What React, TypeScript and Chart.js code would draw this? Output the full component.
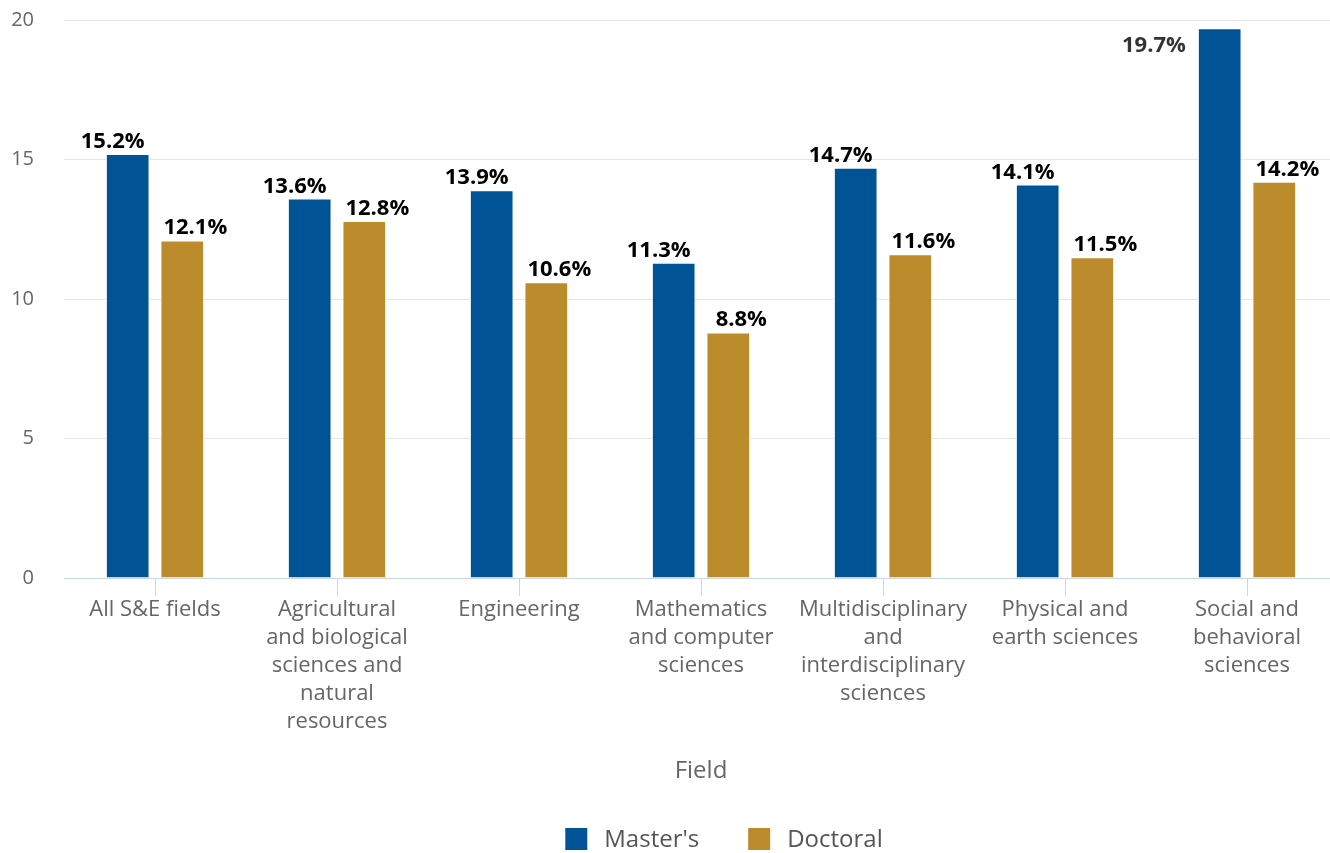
import React, { useEffect, useRef } from "react";
import { Chart, registerables } from "chart.js";

Chart.register(...registerables);

// ---- data ----
const categories: string[][] = [
  ["All S&E fields"],
  ["Agricultural", "and biological", "sciences and", "natural", "resources"],
  ["Engineering"],
  ["Mathematics", "and computer", "sciences"],
  ["Multidisciplinary", "and", "interdisciplinary", "sciences"],
  ["Physical and", "earth sciences"],
  ["Social and", "behavioral", "sciences"],
];
const mastersValues = [15.2, 13.6, 13.9, 11.3, 14.7, 14.1, 19.7];
const doctoralValues = [12.1, 12.8, 10.6, 8.8, 11.6, 11.5, 14.2];
const seriesNames = ["Master's", "Doctoral"];
const seriesColors = ["#005496", "#bb8b2c"];
const yMin = 0;
const yMax = 20;
const yStep = 5;
const xTitle = "Field";

const FONT = "'Open Sans', 'Noto Sans', sans-serif";

const dataLabelPlugin = {
  id: "dataLabelsCustom",
  afterDatasetsDraw(chart: any) {
    const ctx = chart.ctx;
    const area = chart.chartArea;
    const shift = [-15, 13];
    ctx.save();
    ctx.font = `bold 22px ${FONT}`;
    chart.data.datasets.forEach((ds: any, di: number) => {
      const meta = chart.getDatasetMeta(di);
      meta.data.forEach((bar: any, i: number) => {
        const v = ds.data[i] as number;
        const text = v.toFixed(1) + "%";
        const p = bar.getProps(["x", "y", "width"], true);
        ctx.textBaseline = "alphabetic";
        if (p.y - 30 < area.top) {
          ctx.fillStyle = "#333333";
          ctx.textAlign = "right";
          ctx.fillText(text, p.x - p.width / 2 - 12, p.y + 24);
        } else {
          ctx.fillStyle = "#000000";
          ctx.textAlign = "center";
          ctx.fillText(text, p.x + shift[di % shift.length], p.y - 6);
        }
      });
    });
    ctx.restore();
  },
};

const legendPlugin = {
  id: "legendCustom",
  afterDraw(chart: any) {
    const ctx = chart.ctx;
    const area = chart.chartArea;
    ctx.save();
    ctx.font = `24px ${FONT}`;
    const box = 22;
    const gap = 17;
    const itemGap = 49;
    const widths = seriesNames.map((n) => ctx.measureText(n).width);
    let total = 0;
    widths.forEach((w, i) => {
      total += box + gap + w + (i < widths.length - 1 ? itemGap : 0);
    });
    let x = (area.left + area.right) / 2 - total / 2 + 23;
    const boxTop = chart.height - 25;
    seriesNames.forEach((n, i) => {
      ctx.fillStyle = seriesColors[i];
      ctx.fillRect(x, boxTop, box, box);
      ctx.fillStyle = "#555555";
      ctx.textAlign = "left";
      ctx.textBaseline = "middle";
      ctx.fillText(n, x + box + gap, boxTop + box / 2 + 1);
      x += box + gap + widths[i] + itemGap;
    });
    ctx.restore();
  },
};

export default function App() {
  const canvasRef = useRef<HTMLCanvasElement | null>(null);

  useEffect(() => {
    if (!canvasRef.current) return;
    Chart.defaults.font.family = FONT;
    const chart = new Chart(canvasRef.current, {
      type: "bar",
      data: {
        labels: categories,
        datasets: [
          {
            label: seriesNames[0],
            data: mastersValues,
            backgroundColor: seriesColors[0],
            borderColor: "#ffffff",
            borderWidth: 1,
            categoryPercentage: 0.6,
            barPercentage: 0.8,
          },
          {
            label: seriesNames[1],
            data: doctoralValues,
            backgroundColor: seriesColors[1],
            borderColor: "#ffffff",
            borderWidth: 1,
            categoryPercentage: 0.6,
            barPercentage: 0.8,
          },
        ],
      },
      options: {
        responsive: false,
        maintainAspectRatio: false,
        devicePixelRatio: 1,
        animation: false,
        layout: { padding: { top: 20, right: 0, bottom: 60, left: 0 } },
        plugins: {
          legend: { display: false },
          tooltip: { enabled: false },
          title: { display: false },
        },
        scales: {
          x: {
            type: "category",
            offset: true,
            grid: {
              display: true,
              drawOnChartArea: false,
              drawTicks: true,
              tickLength: 18,
              tickColor: "#ccd6eb",
              tickWidth: 1,
              offset: false,
            },
            border: { display: true, color: "#ccd6eb", width: 1 },
            ticks: {
              color: "#666666",
              font: { size: 22, family: FONT, lineHeight: 28 / 22 },
              padding: 0,
              maxRotation: 0,
              autoSkip: false,
            },
            title: {
              display: true,
              text: xTitle,
              color: "#666666",
              font: { size: 24, family: FONT, lineHeight: 1.2 },
              padding: { top: 10, bottom: 7 },
            },
            afterFit: (scale: any) => {
              scale.height = 853 - 578 - 60;
            },
          },
          y: {
            type: "linear",
            min: yMin,
            max: yMax,
            ticks: {
              stepSize: yStep,
              color: "#666666",
              font: { size: 20, family: FONT },
              padding: 30,
            },
            grid: {
              color: "#e6e6e6",
              lineWidth: 1,
              drawTicks: false,
            },
            border: { display: false },
            afterFit: (scale: any) => {
              scale.width = 64;
              scale.paddingTop = 0;
              scale.paddingBottom = 0;
            },
          },
        },
      },
      plugins: [dataLabelPlugin, legendPlugin],
    });
    return () => chart.destroy();
  }, []);

  return (
    <div
      style={{
        position: "absolute",
        left: 0,
        top: 0,
        width: 1330,
        height: 853,
        overflow: "hidden",
        background: "#ffffff",
      }}
    >
      <canvas
        ref={canvasRef}
        width={1338}
        height={853}
        style={{ width: 1338, height: 853, display: "block" }}
      />
    </div>
  );
}
